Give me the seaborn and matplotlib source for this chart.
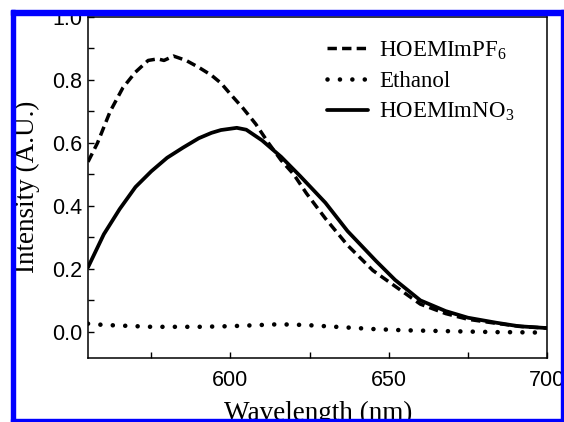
import pandas as pd
import matplotlib.pyplot as plt
import seaborn as sns
from matplotlib.patches import Rectangle

# HOEMImPF6 (dashed)
pf6_wl = [555, 558, 562, 566, 570, 574, 577, 579, 582, 586, 590, 594, 597, 600, 604,
          608, 612, 616, 620, 624, 630, 637, 645, 652, 660, 668, 675, 684, 692, 700]
pf6_int = [0.54, 0.60, 0.70, 0.775, 0.825, 0.862, 0.867, 0.862, 0.876, 0.862, 0.84, 0.815,
           0.79, 0.755, 0.71, 0.66, 0.60, 0.545, 0.50, 0.44, 0.36, 0.275, 0.195, 0.145,
           0.088, 0.058, 0.040, 0.027, 0.017, 0.012]

# Ethanol (dotted)
eth_wl = [555, 560, 565, 570, 575, 580, 585, 590, 595, 600, 605, 610, 615, 620, 625,
          630, 635, 640, 645, 650, 655, 660, 665, 670, 675, 680, 685, 690, 695, 700]
eth_int = [0.026, 0.022, 0.02, 0.018, 0.016, 0.016, 0.016, 0.016, 0.017, 0.018, 0.02,
           0.022, 0.024, 0.023, 0.021, 0.018, 0.015, 0.012, 0.009, 0.007, 0.005, 0.004,
           0.003, 0.002, 0.001, 0.0, -0.001, -0.001, -0.002, -0.002]

# HOEMImNO3 (solid)
no3_wl = [555, 560, 565, 570, 575, 580, 585, 590, 594, 597, 602, 605, 610, 616, 622,
          630, 637, 646, 652, 660, 668, 675, 684, 691, 700]
no3_int = [0.205, 0.31, 0.39, 0.46, 0.51, 0.553, 0.585, 0.615, 0.632, 0.641, 0.648,
           0.642, 0.608, 0.556, 0.495, 0.41, 0.32, 0.225, 0.165, 0.10, 0.066, 0.045,
           0.029, 0.018, 0.012]

x_ticks = [600, 650, 700]
y_ticks = [0.0, 0.2, 0.4, 0.6, 0.8, 1.0]

sns.set_style('ticks')
plt.rcParams['mathtext.fontset'] = 'custom'
plt.rcParams['mathtext.rm'] = 'Liberation Serif'
plt.rcParams['text.color'] = 'black'
plt.rcParams['xtick.color'] = 'black'
plt.rcParams['ytick.color'] = 'black'
plt.rcParams['axes.labelcolor'] = 'black'

W, H = 564, 422
fig = plt.figure(figsize=(W / 100, H / 100), dpi=100)
ax = fig.add_axes([88 / W, (H - 358) / H, (547 - 88) / W, (358 - 17) / H])

sns.lineplot(data=pd.DataFrame({'wl': pf6_wl, 'i': pf6_int}), x='wl', y='i', ax=ax,
             color='black', lw=2.5, linestyle=(0, (2.7, 1.5)), label=r'HOEMImPF$_\mathrm{6}$')
sns.lineplot(data=pd.DataFrame({'wl': eth_wl, 'i': eth_int}), x='wl', y='i', ax=ax,
             color='black', lw=3.3, linestyle=(0, (0.01, 2.7)), dash_capstyle='round',
             label='Ethanol')
sns.lineplot(data=pd.DataFrame({'wl': no3_wl, 'i': no3_int}), x='wl', y='i', ax=ax,
             color='black', lw=2.7, label=r'HOEMImNO$_\mathrm{3}$')

ax.set_xlim(555, 700)
ax.set_ylim(-0.083, 1.0)
ax.set_xticks(x_ticks)
ax.set_yticks(y_ticks)
ax.set_xticks([575, 625, 675], minor=True)
ax.set_yticks([-0.1 + 0.2 * k for k in range(1, 5)] + [0.9], minor=True)
ax.set_xticklabels([str(t) for t in x_ticks], family='Liberation Sans', fontsize=15.5)
ax.set_yticklabels([f'{t:.1f}' for t in y_ticks], family='Liberation Sans', fontsize=15.5)
ax.tick_params(axis='both', which='both', direction='in', length=4, width=1,
               top=False, right=False, color='black')
ax.tick_params(axis='x', pad=9)
ax.tick_params(axis='y', pad=4)
for s in ax.spines.values():
    s.set_visible(True)
    s.set_linewidth(1.1)
    s.set_color('black')

ax.set_xlabel('Wavelength (nm)', family='Liberation Serif', fontsize=19.5)
ax.set_ylabel('Intensity (A.U.)', family='Liberation Serif', fontsize=19.5)
ax.xaxis.set_label_coords(0.501, -0.125)
ax.yaxis.set_label_coords(-0.105, 0.503)

ax.legend(loc='upper left', bbox_to_anchor=(0.521, 0.935), frameon=False,
          prop={'family': 'Liberation Serif', 'size': 16.5}, handlelength=1.79,
          handletextpad=0.48, labelspacing=0.38, borderpad=0, borderaxespad=0)

# blue frame around the picture
for x0, y0, x1, y1 in [(11, 10, 15, 422), (11, 10, 564, 15), (561, 10, 564, 422), (11, 419, 564, 422)]:
    fig.patches.append(Rectangle((x0 / W, (H - y1) / H), (x1 - x0) / W, (y1 - y0) / H,
                                 transform=fig.transFigure, color='#0000ff', zorder=10))

fig.savefig('out.png', dpi=100)
